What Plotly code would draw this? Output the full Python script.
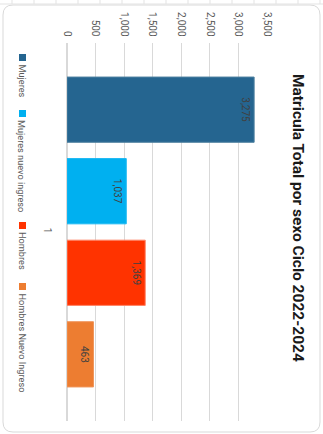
import plotly.graph_objects as go

# Enrolment by sex, cycle 2022-2024
series_names = ["Mujeres", "Mujeres nuevo ingreso", "Hombres", "Hombres Nuevo Ingreso"]
series_values = [3275, 1037, 1369, 463]
series_colors = ["#256590", "#00b0f0", "#ff3300", "#ed7d31"]
edge_colors = ["#4f81a0", "#19b8f2", "#ff8466", "#f0955a"]
category = ["1"]
value_ticks = [0, 500, 1000, 1500, 2000, 2500, 3000, 3500]
title_text = "Matricula Total por sexo Ciclo 2022-2024"

W, H = 323, 434
L, R, T, B = 67, 267, 43, 421
FONT = "Roboto, sans-serif"
GREY = "#595959"


def px(x):
    return (x - L) / (R - L)


def py(y):
    return (B - y) / (B - T)


fig = go.Figure()
for name, val, col, edge in zip(series_names, series_values, series_colors, edge_colors):
    fig.add_trace(go.Bar(
        name=name, y=category, x=[val], orientation="h",
        marker=dict(color=col, line=dict(color=edge, width=1)),
        text=[f"{val:,}"], textposition="inside", insidetextanchor="end",
        textangle=90, textfont=dict(family=FONT, size=10, color="#404040"),
        showlegend=False,
    ))

shapes = []
ann = []

# rounded chart frame
x0, x1, y0, y1, r = px(3), px(320), py(5), py(432), 10
rx, ry = r / (R - L), r / (B - T)
path = (f"M {x0 + rx} {y0} L {x1 - rx} {y0} Q {x1} {y0} {x1} {y0 - ry} "
        f"L {x1} {y1 + ry} Q {x1} {y1} {x1 - rx} {y1} "
        f"L {x0 + rx} {y1} Q {x0} {y1} {x0} {y1 + ry} "
        f"L {x0} {y0 - ry} Q {x0} {y0} {x0 + rx} {y0} Z")
shapes.append(dict(type="path", xref="paper", yref="paper", path=path,
                   line=dict(color="#d9d9d9", width=1), fillcolor="rgba(0,0,0,0)"))

# worksheet cell lines behind the chart
shapes.append(dict(type="line", xref="paper", yref="paper",
                   x0=px(0), x1=px(323), y0=py(4), y1=py(4),
                   line=dict(color="#e3e3e3", width=1)))
for gx in range(12, 323, 22):
    shapes.append(dict(type="line", xref="paper", yref="paper",
                       x0=px(gx), x1=px(gx), y0=py(0), y1=py(4),
                       line=dict(color="#e3e3e3", width=1)))

# legend, drawn rotated down the left side
legend_pos = [54, 110, 222, 283]
for name, col, ypos in zip(series_names, series_colors, legend_pos):
    shapes.append(dict(type="rect", xref="paper", yref="paper",
                       x0=px(19), x1=px(26), y0=py(ypos), y1=py(ypos + 7),
                       fillcolor=col, line=dict(width=0)))
    ann.append(dict(text=name, xref="paper", yref="paper", x=px(22), y=py(ypos + 8),
                    xanchor="center", yanchor="top", textangle=90, showarrow=False,
                    font=dict(family=FONT, size=9.2, color=GREY)))

# title, rotated along the right edge
ann.append(dict(text=f"<b>{title_text}</b>", xref="paper", yref="paper",
                x=px(298), y=py(218), xanchor="center", yanchor="middle",
                textangle=90, showarrow=False,
                font=dict(family=FONT, size=15.5, color="#1a1a1a")))

fig.update_layout(
    width=W, height=H,
    margin=dict(l=L, r=W - R, t=T, b=H - B, pad=0),
    paper_bgcolor="white", plot_bgcolor="white",
    barmode="group", bargap=0.137, bargroupgap=0.2,
    shapes=shapes, annotations=ann,
    xaxis=dict(range=[0, 3500], side="top", tickvals=value_ticks,
               tickformat=",", tickangle=90, showgrid=True, gridcolor="#d9d9d9",
               gridwidth=1, zeroline=True, zerolinecolor="#d9d9d9", showline=False,
               ticks="", ticklabelstandoff=4,
               tickfont=dict(family=FONT, size=10, color=GREY)),
    yaxis=dict(autorange="reversed", tickangle=90, showgrid=False, zeroline=False,
               showline=False, ticks="", ticklabelstandoff=12,
               tickfont=dict(family=FONT, size=10, color=GREY)),
)

fig.write_html("out.html")
